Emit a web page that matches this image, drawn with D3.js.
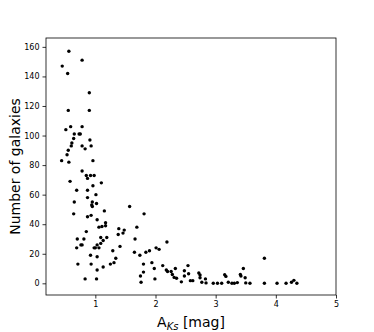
<!DOCTYPE html>
<html>
<head>
<meta charset="utf-8">
<script src="https://cdn.jsdelivr.net/npm/d3@7"></script>
<style>
  body { margin: 0; background: #fff; }
  text { font-family: "DejaVu Sans", sans-serif; }
</style>
</head>
<body>
<div id="chart"></div>
<script>
// extinction A_Ks [mag]
const extinction = [
  0.56, 0.78, 0.45, 0.54, 0.90, 0.55, 0.90, 0.51, 0.59, 0.78,
  0.65, 0.73, 0.75, 0.64, 0.61, 0.60, 0.78, 0.91, 0.93, 0.83,
  0.55, 0.53, 0.44, 0.56, 0.96, 0.78, 0.85, 0.87, 0.92, 0.98,
  0.58, 1.10, 0.96, 0.69, 0.87, 1.01, 0.87, 0.65, 0.95, 0.94,
  1.02, 0.95, 1.15, 0.64, 0.93, 0.87, 1.03, 1.17, 1.06, 1.11,
  1.17, 0.85, 1.09, 1.19, 0.70, 0.81, 1.13, 1.09, 0.76, 0.78,
  0.69, 1.03, 1.00, 1.06, 0.98, 0.92, 1.03, 0.71, 0.93, 1.13,
  1.25, 1.31, 1.34, 1.03, 0.83, 1.02,
  1.57, 1.81, 1.39, 1.48, 1.46, 1.38, 1.69, 1.66, 1.41, 1.29,
  1.65, 1.74, 1.84, 1.90, 2.01, 2.06, 1.80, 1.94, 1.80, 1.98,
  1.75, 1.76, 1.99,
  2.19, 2.12, 2.18, 2.20, 2.26, 2.28, 2.33, 2.31, 2.35, 2.43,
  2.48, 2.54, 2.48, 2.55, 2.58, 2.62, 2.72, 2.74, 2.74, 2.77,
  2.83, 2.84, 2.96, 3.03, 3.10, 3.15, 3.17, 3.21, 3.27, 3.31,
  3.36, 3.41, 3.42, 3.46, 3.49, 3.50, 3.57,
  3.81, 3.81, 4.02, 4.17, 4.26, 4.30, 4.35
];
// number of galaxies
const galaxies = [
  157, 151, 147, 142, 129, 117, 117, 104, 106, 106,
  101, 101, 101, 98, 95, 93, 93, 97, 93, 91,
  90, 87, 83, 82, 83, 76, 73, 71, 73, 73,
  69, 68, 66, 63, 63, 60, 58, 55, 55, 53,
  54, 52, 49, 47, 46, 45, 43, 41, 38, 38.5,
  39, 35, 31, 31, 30, 30, 29, 27, 26, 26,
  24, 26, 24, 24, 24, 19, 18, 13, 13, 11,
  13, 14, 17, 9, 3, 3,
  52, 47, 37, 36, 34, 33, 38, 30, 25, 22,
  21, 19, 21, 22, 24, 23, 13, 14, 7.6, 10,
  5, 0.7, 3,
  28, 12, 9, 8, 8, 6, 10, 4, 3.4, 1,
  8.5, 12, 5, 6.5, 1.8, 1.8, 7, 5.6, 3.8, 0.7,
  3, 0.3, 0, 0, 0, 5.8, 4.7, 0.7, 0, 0,
  0.5, 6, 5, 10, 3.8, 0.3, 0,
  17, 0, 0, 0, 0.7, 2, 0
];
const xTicks = [1, 2, 3, 4, 5];
const yTicks = [0, 20, 40, 60, 80, 100, 120, 140, 160];

const W = 374, H = 332;
const svg = d3.select("#chart").append("svg")
  .attr("width", W)
  .attr("height", H);

const pLeft = 46, pRight = 336, pTop = 38, pBottom = 295;

const x = d3.scaleLinear().domain([0.18, 5]).range([pLeft, pRight]);
const y = d3.scaleLinear().domain([-7.9, 166]).range([pBottom, pTop]);

// axes
const xAxis = svg.append("g")
  .attr("transform", `translate(0,${pBottom})`)
  .call(d3.axisBottom(x).tickValues(xTicks).tickSize(3.5).tickPadding(3).tickFormat(d3.format("d")));
const yAxis = svg.append("g")
  .attr("transform", `translate(${pLeft},0)`)
  .call(d3.axisLeft(y).tickValues(yTicks).tickSize(3.5).tickPadding(3).tickFormat(d3.format("d")));

[xAxis, yAxis].forEach(g => {
  g.select(".domain").remove();
  g.selectAll("text").attr("font-family", "DejaVu Sans").attr("font-size", 8).attr("fill", "#000");
  g.selectAll("line").attr("stroke", "#000").attr("stroke-width", 0.8);
});

// frame
svg.append("rect")
  .attr("x", pLeft)
  .attr("y", pTop)
  .attr("width", pRight - pLeft)
  .attr("height", pBottom - pTop)
  .attr("fill", "none")
  .attr("stroke", "#000")
  .attr("stroke-width", 0.8);

// points
const pts = extinction.map((v, i) => [v, galaxies[i]]);
svg.append("g").selectAll("circle")
  .data(pts)
  .join("circle")
  .attr("cx", d => x(d[0]))
  .attr("cy", d => y(d[1]))
  .attr("r", 1.7)
  .attr("fill", "#000");

// labels
const xl = svg.append("text")
  .attr("x", (pLeft + pRight) / 2)
  .attr("y", 327)
  .attr("text-anchor", "middle")
  .attr("font-size", 14)
  .attr("fill", "#000");
xl.append("tspan").text("A");
xl.append("tspan").attr("font-size", 10).attr("font-style", "italic").attr("dy", 3).text("Ks");
xl.append("tspan").attr("dy", -3).text(" [mag]");

svg.append("text")
  .attr("transform", `translate(20,${(pTop + pBottom) / 2}) rotate(-90)`)
  .attr("text-anchor", "middle")
  .attr("font-size", 14)
  .attr("fill", "#000")
  .text("Number of galaxies");
</script>
</body>
</html>
